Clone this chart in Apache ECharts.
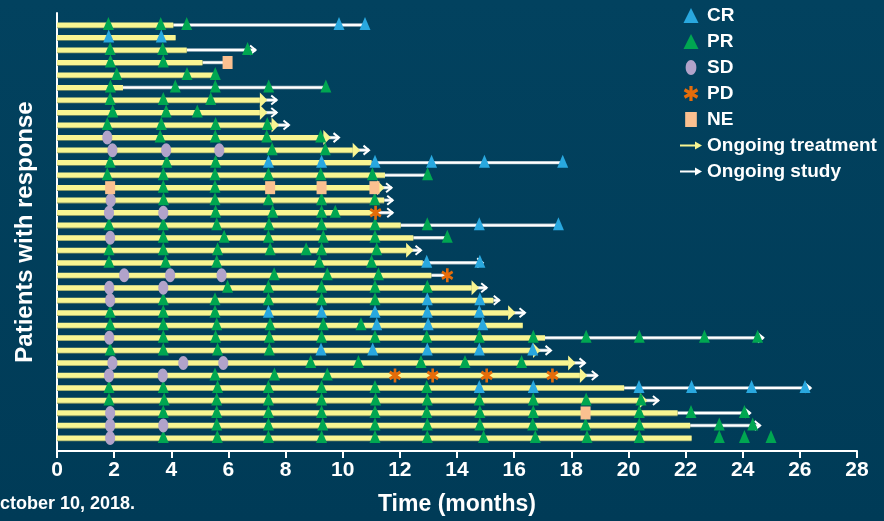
<!DOCTYPE html>
<html><head><meta charset="utf-8">
<script src="https://cdn.jsdelivr.net/npm/echarts/dist/echarts.min.js"></script>
<style>html,body{margin:0;padding:0;background:#01405d}#c{width:884px;height:521px}</style>
</head><body><div id="c"></div><script>
// ---- DATA (rows top to bottom, months) ----
const tickLabels = ['0','2','4','6','8','10','12','14','16','18','20','22','24','26','28'];
const treatEnd = [4.07,4.15,4.54,5.09,5.53,2.31,7.10,7.10,7.51,9.32,10.35,11.01,11.48,11.20,11.45,11.20,12.03,12.47,12.22,12.80,13.10,14.51,15.27,15.79,16.30,17.08,16.66,17.89,18.30,19.85,20.40,21.72,22.16,22.21];
const studyEnd = [10.78,null,6.95,5.97,null,9.41,7.69,7.69,8.12,9.87,10.92,17.70,12.97,11.71,11.75,11.75,17.55,13.66,12.74,14.90,13.64,15.04,15.48,16.38,null,24.72,17.29,18.48,18.91,26.38,21.05,24.26,24.61,null];
const ongoingTreatmentRows = [6,7,8,9,10,13,18,21,23,26,27,28,30];
const ongoingStudyRows = [2,6,7,8,9,10,13,14,15,18,19,21,22,23,25,26,27,28,29,30,31,32];
const crPoints = [[9.87,0],[10.78,0],[1.81,1],[3.65,1],
 [7.40,11],[9.26,11],[11.13,11],[13.11,11],[14.96,11],[17.70,11],
 [14.78,16],[17.55,16],[12.94,19],[14.80,19],[12.96,22],[14.80,22],
 [7.40,23],[9.26,23],[11.13,23],[12.96,23],[14.78,23],
 [11.19,24],[12.99,24],[14.90,24],
 [9.24,26],[11.05,26],[12.96,26],[14.78,26],[16.65,26],
 [14.78,29],[16.67,29],[20.37,29],[22.21,29],[24.31,29],[26.18,29]];
const prRows = {
 0:[1.80,3.63,4.54], 2:[1.86,3.70,6.67], 3:[1.87,3.72], 4:[2.09,4.55,5.54],
 5:[1.87,4.14,5.54,7.41,9.41], 6:[1.86,3.72,5.38], 7:[1.95,3.82,4.91],
 8:[1.76,3.65,5.55,7.36], 9:[3.61,5.54,7.34,9.23], 10:[7.53,9.39],
 11:[1.86,3.84,5.55], 12:[1.76,3.72,5.53,7.40,9.23,11.04,12.97], 13:[3.72,5.53],
 14:[3.73,5.53,7.40,9.26,11.12], 15:[5.55,7.55,9.26,9.74],
 16:[1.82,3.72,5.59,7.42,9.26,11.13,12.96], 17:[3.72,5.85,7.40,9.32,11.13,13.66],
 18:[1.82,3.72,5.62,7.46,8.72,9.26,11.19], 19:[1.82,3.80,5.59,9.18,11.01],
 20:[7.60,9.46,11.25], 21:[5.97,7.40,9.26,11.13,12.96], 22:[3.72,5.53,7.40,9.26,11.13],
 23:[1.86,3.72,5.53], 24:[1.86,3.72,5.59,7.46,9.32,10.64],
 25:[3.72,5.55,7.43,9.26,11.13,12.94,14.78,16.67,18.52,20.38,22.66,24.52],
 26:[1.86,3.72,5.62,7.43], 27:[8.88,10.55,12.74,14.28,16.26], 28:[5.53,7.61,9.46],
 29:[1.82,3.72,5.62,7.40,9.26,11.13,12.94],
 30:[1.82,3.75,5.59,7.40,9.26,11.15,12.96,14.78,16.67,18.52,20.44],
 31:[3.72,5.59,7.40,9.26,11.13,12.94,14.80,16.67,20.38,22.19,24.06],
 32:[5.59,7.40,9.30,11.13,12.96,14.80,16.65,18.50,20.38,23.18,24.35],
 33:[3.72,5.61,7.40,9.26,11.13,12.96,14.93,16.74,18.55,20.38,23.18,24.06,24.99]
};
const sdPoints = [[1.76,9],[1.94,10],[3.82,10],[5.68,10],[1.88,14],[1.82,15],[3.72,15],[1.86,17],
 [2.35,20],[3.96,20],[5.76,20],[1.83,21],[3.72,21],[1.86,22],[1.83,25],
 [1.94,27],[4.42,27],[5.82,27],[1.82,28],[3.70,28],[1.86,31],[1.86,32],[3.72,32],[1.86,33]];
const pdPoints = [[11.15,15],[13.66,20],[11.83,28],[13.15,28],[15.04,28],[17.34,28]];
const nePoints = [[5.97,3],[1.86,13],[7.46,13],[9.26,13],[11.11,13],[18.50,31]];

// ---- build ----
const prPoints = [];
Object.keys(prRows).forEach(r => prRows[r].forEach(m => prPoints.push([m, +r])));
const YELLOW = '#f8f592', GREEN = '#00a651', BLUE = '#29a8df', SDC = '#b1a3ca', PDC = '#e56c0a', NEC = '#fac090';
const FONT = '"Liberation Sans", Arial, sans-serif';
const TRI = 'path://M7,0L14,14L0,14Z';
const ELL = 'path://M5,0C7.76,0 10,3.13 10,7C10,10.87 7.76,14 5,14C2.24,14 0,10.87 0,7C0,3.13 2.24,0 5,0Z';
const RECT = 'path://M0,0L14,0L14,18L0,18Z';
const ARROW = 'path://M0,3L15,3L15,0L22,4L15,8L15,5L0,5Z';
function asterisk(){
  const L = 7, w = 1.5; let d = '';
  [90, 30, -30].forEach(a => {
    const t = a * Math.PI / 180, c = Math.cos(t), s = Math.sin(t);
    const pts = [[-L,-w],[L,-w],[L,w],[-L,w]].map(([u,v]) => [(u*c - v*s + 8).toFixed(2), (u*s + v*c + 8).toFixed(2)]);
    d += 'M' + pts.map(p => p.join(',')).join('L') + 'Z';
  });
  return 'path://' + d;
}
const AST = asterisk();

const barData = treatEnd.map((v, i) => [i, v]);
const followData = [];
studyEnd.forEach((v, i) => { if (v != null) followData.push([i, treatEnd[i], v]); });
const treatArrowData = ongoingTreatmentRows.map(r => [r, treatEnd[r]]);
const studyArrowData = ongoingStudyRows.map(r => [r, studyEnd[r]]);

const chart = echarts.init(document.getElementById('c'));
chart.setOption({
  animation: false,
  backgroundColor: {type:'linear', x:0, y:0, x2:0, y2:1, colorStops:[{offset:0,color:'#02425f'},{offset:1,color:'#003b57'}]},
  grid: {left: 57, right: 27, top: 13, bottom: 69},
  xAxis: {
    type: 'value', min: 0, max: 28, interval: 2,
    axisLine: {show: true, onZero: false, lineStyle: {color: '#fff', width: 2}},
    axisTick: {show: true, length: 7, lineStyle: {color: '#fff', width: 2}},
    splitLine: {show: false},
    axisLabel: {color: '#fff', fontSize: 21, fontWeight: 'bold', fontFamily: FONT, margin: 9,
      formatter: v => tickLabels[Math.round(v / 2)]},
    name: 'Time (months)', nameLocation: 'middle', nameGap: 42,
    nameTextStyle: {color: '#fff', fontSize: 23, fontWeight: 'bold', fontFamily: FONT}
  },
  yAxis: {
    type: 'value', inverse: true, min: -0.957, max: 34.04,
    axisLine: {show: true, onZero: false, lineStyle: {color: '#fff', width: 2}},
    axisTick: {show: false}, axisLabel: {show: false}, splitLine: {show: false},
    name: 'Patients with response', nameLocation: 'middle', nameGap: 20,
    nameTextStyle: {color: '#fff', fontSize: 24, fontWeight: 'bold', fontFamily: FONT}
  },
  legend: {
    orient: 'vertical', left: 675, top: 1, itemWidth: 22, itemHeight: 15, itemGap: 7,
    selectedMode: false,
    textStyle: {color: '#fff', fontSize: 19, fontWeight: 'bold', fontFamily: FONT},
    data: [
      {name: 'CR', icon: TRI}, {name: 'PR', icon: TRI}, {name: 'SD', icon: ELL},
      {name: 'PD', icon: AST}, {name: 'NE', icon: RECT},
      {name: 'Ongoing treatment', icon: ARROW}, {name: 'Ongoing study', icon: ARROW}
    ]
  },
  graphic: [{type: 'text', left: 0, top: 495,
    style: {text: 'ctober 10, 2018.', fill: '#fff', font: 'bold 18px ' + FONT}}],
  series: [
    {type: 'custom', name: 'Follow-up', data: followData, encode: {x: [1, 2], y: 0}, z: 1,
      renderItem: (p, api) => {
        const r = api.value(0), a = api.coord([api.value(1), r]), b = api.coord([api.value(2), r]);
        return {type: 'group', children: [
          {type: 'line', shape: {x1: a[0], y1: a[1], x2: b[0], y2: b[1]}, style: {stroke: '#a9bac4', lineWidth: 3.4}},
          {type: 'line', shape: {x1: a[0], y1: a[1], x2: b[0], y2: b[1]}, style: {stroke: '#ffffff', lineWidth: 2}}
        ]};
      }},
    {type: 'custom', name: 'Treatment', data: barData, encode: {x: 1, y: 0}, z: 2,
      renderItem: (p, api) => {
        const r = api.value(0), a = api.coord([0, r]), b = api.coord([api.value(1), r]);
        return {type: 'group', children: [
          {type: 'rect', shape: {x: a[0], y: a[1] - 2, width: b[0] - a[0], height: 5.2}, style: {fill: '#8d9a66'}},
          {type: 'rect', shape: {x: a[0], y: a[1] - 2.6, width: b[0] - a[0], height: 5}, style: {fill: YELLOW}}
        ]};
      }},
    {type: 'custom', name: 'Ongoing treatment', data: treatArrowData, encode: {x: 1, y: 0}, z: 3,
      itemStyle: {color: YELLOW},
      renderItem: (p, api) => {
        const b = api.coord([api.value(1), api.value(0)]);
        return {type: 'polygon', shape: {points: [[b[0], b[1] - 7.5], [b[0] + 7.5, b[1]], [b[0], b[1] + 7.5]]}, style: {fill: YELLOW}};
      }},
    {type: 'custom', name: 'Ongoing study', data: studyArrowData, encode: {x: 1, y: 0}, z: 3,
      itemStyle: {color: '#ffffff'},
      renderItem: (p, api) => {
        const b = api.coord([api.value(1), api.value(0)]);
        return {type: 'polyline', shape: {points: [[b[0] - 5.5, b[1] - 4.5], [b[0], b[1]], [b[0] - 5.5, b[1] + 4.5]]}, style: {stroke: '#fff', lineWidth: 2, fill: null}};
      }},
    {type: 'scatter', name: 'CR', data: crPoints, symbol: TRI, symbolSize: [11, 13], symbolOffset: [0, -1.5], itemStyle: {color: BLUE, opacity: 1}, z: 5},
    {type: 'scatter', name: 'PR', data: prPoints, symbol: TRI, symbolSize: [11, 13], symbolOffset: [0, -1.5], itemStyle: {color: GREEN, opacity: 1}, z: 5},
    {type: 'scatter', name: 'SD', data: sdPoints, symbol: ELL, symbolSize: [10, 14], itemStyle: {color: SDC, opacity: 1}, z: 5},
    {type: 'scatter', name: 'PD', data: pdPoints, symbol: AST, symbolSize: [12, 14], itemStyle: {color: PDC, opacity: 1}, z: 5},
    {type: 'scatter', name: 'NE', data: nePoints, symbol: RECT, symbolSize: [10, 13], itemStyle: {color: NEC, opacity: 1}, z: 5}
  ]
});
</script></body></html>
